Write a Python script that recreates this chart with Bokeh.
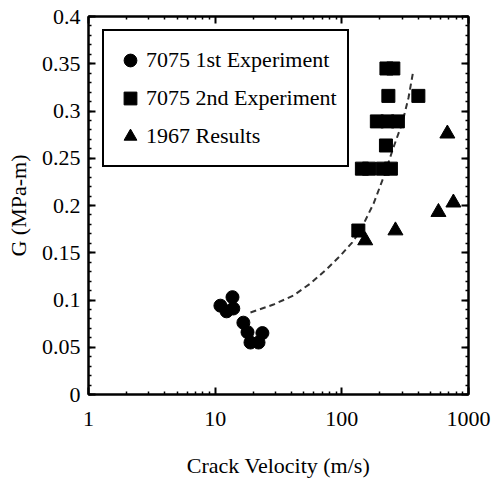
from bokeh.plotting import figure
from bokeh.models import FixedTicker, LinearAxis, LogAxis, Range1d
from bokeh.embed import file_html
from bokeh.resources import INLINE

# 7075 1st Experiment (circles)
exp1_v = [11.0, 13.7, 13.9, 12.3, 16.7, 18.0, 19.0, 23.6, 22.0]
exp1_g = [0.094, 0.103, 0.091, 0.088, 0.076, 0.066, 0.055, 0.065, 0.055]

# 7075 2nd Experiment (squares)
exp2_v = [225, 255, 233, 402, 189, 229, 277, 223, 144, 164, 211, 244, 135]
exp2_g = [0.345, 0.345, 0.316, 0.316, 0.289, 0.289, 0.289, 0.2635,
          0.239, 0.239, 0.239, 0.239, 0.1735]

# 1967 Results (triangles)
res_v = [153, 265, 579, 760, 681]
res_g = [0.163, 0.1735, 0.193, 0.203, 0.276]

# dashed trend curve
fit_v = [19.0, 28.9, 41.5, 56.5, 76.9, 97.5, 121, 140, 178, 213, 255, 301, 336, 367]
fit_g = [0.0868, 0.0952, 0.1048, 0.1175, 0.1333, 0.147, 0.161, 0.1735,
         0.202, 0.2296, 0.261, 0.288, 0.314, 0.343]

x_ticks = [1, 10, 100, 1000]
x_tick_labels = ["1", "10", "100", "1000"]
y_ticks = [0, 0.05, 0.1, 0.15, 0.2, 0.25, 0.3, 0.35, 0.4]
y_tick_labels = ["0", "0.05", "0.1", "0.15", "0.2", "0.25", "0.3", "0.35", "0.4"]

FONT = "Liberation Serif"
FS = "22px"

p = figure(width=494, height=493, x_axis_type="log",
           x_range=Range1d(1, 1000), y_range=Range1d(0, 0.4),
           output_backend="svg", toolbar_location=None,
           min_border_left=88, min_border_right=26,
           min_border_top=16, min_border_bottom=99)
p.grid.visible = False
p.background_fill_color = "white"
p.border_fill_color = "white"
p.outline_line_color = "black"
p.outline_line_width = 2
p.outline_line_alpha = 1

x_minor = [m * d for d in (1, 10, 100) for m in range(2, 10)]
y_minor = [i / 100 for i in range(0, 41)]
xt = FixedTicker(ticks=x_ticks, minor_ticks=x_minor)
yt = FixedTicker(ticks=y_ticks, minor_ticks=y_minor)

p.line(fit_v, fit_g, line_color="#333333", line_width=2, line_dash="6 4")

p.scatter(exp1_v, exp1_g, marker="circle", size=13, color="black",
          legend_label="7075 1st Experiment")
p.scatter(exp2_v, exp2_g, marker="square", size=13, color="black",
          legend_label="7075 2nd Experiment")
p.scatter(res_v, res_g, marker="triangle", size=15, color="black",
          legend_label="1967 Results")

def style(ax, labels=True):
    ax.axis_line_color = "black"
    ax.axis_line_width = 2
    ax.major_tick_in = 7
    ax.major_tick_out = 0
    ax.minor_tick_in = 3
    ax.minor_tick_out = 0
    ax.major_tick_line_width = 2
    ax.minor_tick_line_width = 1.5
    ax.major_label_text_font = FONT
    ax.major_label_text_font_size = FS if labels else "1px"
    ax.major_label_text_color = "black"
    if not labels:
        ax.major_label_text_alpha = 0
    ax.axis_label_text_font = FONT
    ax.axis_label_text_font_size = FS
    ax.axis_label_text_font_style = "normal"
    ax.axis_label_text_color = "black"

xa = p.xaxis[0]
xa.ticker = xt
xa.major_label_overrides = {float(k): v for k, v in zip(x_ticks, x_tick_labels)}
xa.axis_label = "Crack Velocity (m/s)"
style(xa)
xa.major_label_standoff = 17
xa.axis_label_standoff = 24

ya = p.yaxis[0]
ya.ticker = yt
ya.major_label_overrides = {float(k): v for k, v in zip(y_ticks, y_tick_labels)}
ya.axis_label = "G (MPa-m)"
style(ya)
ya.major_label_standoff = 8
ya.axis_label_standoff = 8

top = LogAxis(ticker=xt)
style(top, labels=False)
top.major_label_standoff = 0
p.add_layout(top, "above")

right = LinearAxis(ticker=yt)
style(right, labels=False)
right.major_label_standoff = 0
p.add_layout(right, "right")

lg = p.legend[0]
lg.location = (14, 227)
lg.border_line_color = "black"
lg.border_line_alpha = 1
lg.border_line_width = 2
lg.background_fill_alpha = 1
lg.label_text_font = FONT
lg.label_text_font_size = FS
lg.label_text_color = "black"
lg.padding = 10
lg.spacing = 0
lg.label_height = 38
lg.glyph_height = 38
lg.glyph_width = 32
lg.label_standoff = 0
lg.margin = 0

open("out.html", "w").write(file_html(p, INLINE))
